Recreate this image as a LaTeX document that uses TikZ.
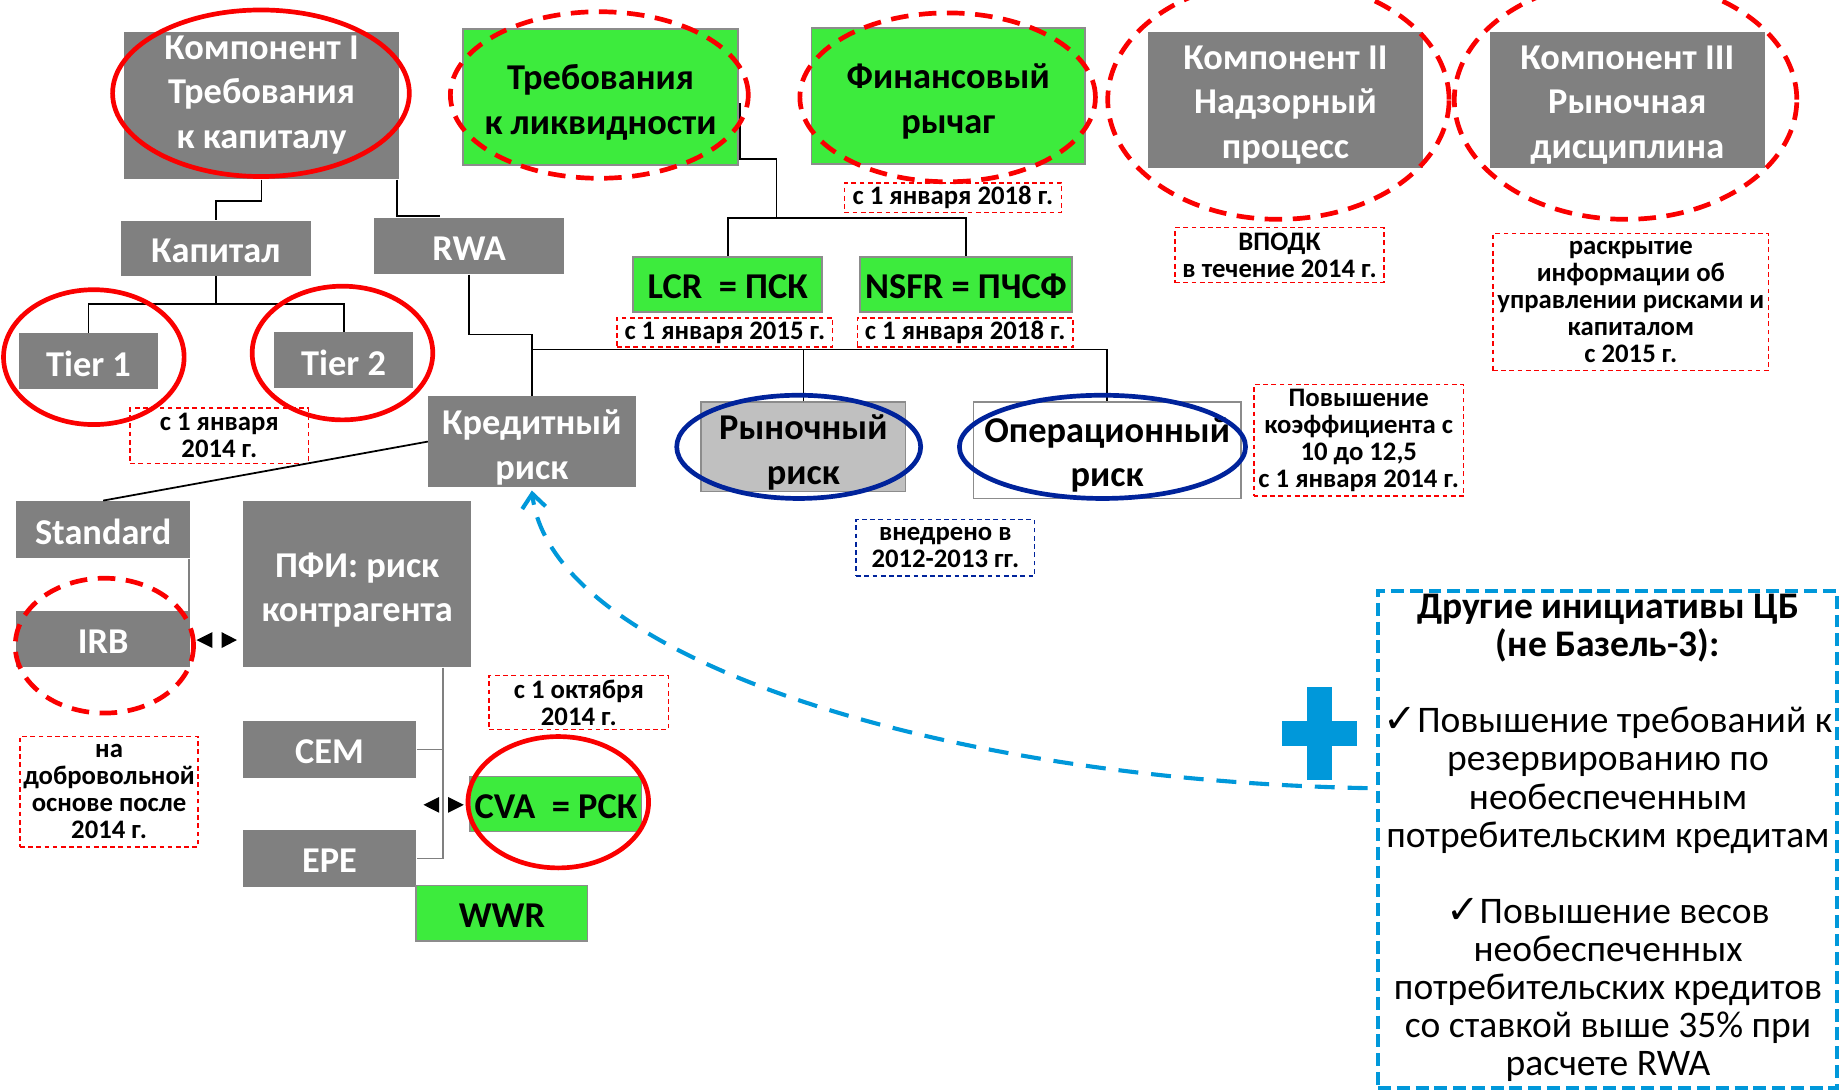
\documentclass[tikz,border=0pt]{standalone}
\usepackage{fontspec}
\setmainfont{Carlito}
\newfontfamily\djv{DejaVu Sans}
\usetikzlibrary{arrows.meta}
\definecolor{bgray}{RGB}{128,128,128}
\definecolor{bgreen}{RGB}{61,235,61}
\definecolor{lgray}{RGB}{192,192,192}
\definecolor{edgegray}{RGB}{140,140,140}
\definecolor{myred}{RGB}{250,0,0}
\definecolor{navy}{RGB}{0,35,155}
\definecolor{skyb}{RGB}{0,152,218}
\newcommand\bigfont{\fontsize{31}{38}\selectfont\bfseries}
\newcommand\notefont{\fontsize{22.8}{23}\selectfont\bfseries}
\newcommand\sidefont{\fontsize{32}{32.5}\selectfont}
\newcommand\chk{{\djv\fontsize{34}{32.5}\selectfont ✓}}
% box node + its text node: style, name, x, y, w, h, text shift, text
\newcommand\bxn[8]{%
  \node[#1, sz={#5}{#6}] (#2) at (#3,#4) {};
  \node[#1, draw=none, fill=none] (#2t) at (#3,{#4+#7}) {#8};}
\begin{document}
\begin{tikzpicture}[x=1pt,y=-1pt,
  gbox/.style={fill=bgray, text=white, font=\bigfont, inner sep=0pt, align=center},
  grbox/.style={fill=bgreen, draw=edgegray, line width=1.5pt, text=black, font=\bigfont, inner sep=0pt, align=center},
  lbox/.style={grbox, fill=lgray},
  wbox/.style={grbox, fill=white},
  note/.style={draw=myred, line width=1.3pt, dash pattern=on 4pt off 3pt, font=\notefont, text=black, inner sep=0pt, align=center},
  conn/.style={draw=black, line width=1.5pt},
  gconn/.style={draw=bgray, line width=1.5pt},
  ring/.style={draw=myred, line width=4pt},
  dring/.style={draw=myred, line width=4pt, dash pattern=on 15pt off 9pt},
  bring/.style={draw=navy, line width=4pt},
  sz/.style 2 args={minimum width=#1pt, minimum height=#2pt}
]
\fill[white] (0,0) rectangle (1568,930);
\useasboundingbox (0,0) rectangle (1568,930);

% top row
\bxn{gbox}{k1}{223}{90}{234}{126}{-9}{Компонент I\\Требования\\к капиталу}
\bxn{grbox}{liq}{512}{83}{234}{116}{4.5}{Требования\\к ликвидности}
\bxn{grbox}{lev}{808.5}{82}{233}{116}{4.5}{Финансовый\\рычаг}
\bxn{gbox}{k2}{1096}{85}{234}{116}{4.5}{Компонент II\\Надзорный\\процесс}
\bxn{gbox}{k3}{1387.5}{85}{235}{116}{4.5}{Компонент III\\Рыночная\\дисциплина}

% second level and below
\bxn{gbox}{kap}{184}{211.5}{162}{47}{2}{Капитал}
\bxn{gbox}{rwa}{400}{210}{162}{48}{2}{RWA}
\bxn{grbox}{lcr}{620.5}{242.5}{161}{47}{2}{LCR\ \ = ПСК}
\bxn{grbox}{nsfr}{823.5}{242.5}{181}{47}{2}{NSFR = ПЧСФ}
\bxn{gbox}{t1}{75.5}{308}{119}{48}{2}{Tier 1}
\bxn{gbox}{t2}{293}{307}{118}{48}{2}{Tier 2}
\bxn{gbox}{cred}{453.5}{376.5}{177}{77}{5}{Кредитный\\риск}
\bxn{lbox}{mkt}{685}{381}{174}{76}{5}{Рыночный\\риск}
\bxn{wbox}{opr}{944}{384}{228}{82}{4}{Операционный\\риск}
\bxn{gbox}{std}{88}{451.5}{148}{49}{2}{Standard}
\bxn{gbox}{irb}{88}{545}{148}{48}{2}{IRB}
\bxn{gbox}{pfi}{304.5}{498}{195}{142}{5}{ПФИ: риск\\контрагента}
\bxn{gbox}{cem}{281}{639}{148}{48}{2}{CEM}
\bxn{gbox}{epe}{281}{732}{148}{48}{2}{EPE}
\bxn{grbox}{cva}{474}{685.5}{146}{47}{2}{CVA\ \ = РСК}
\bxn{grbox}{wwr}{428}{778.5}{146}{47}{2}{WWR}

% notes
\node[note, sz={185}{25}] (d1) at (812.5,168.5) {с 1 января 2018 г.};
\node[note, sz={184}{25}] (d2) at (618,283.5) {с 1 января 2015 г.};
\node[note, sz={184}{25}] (d3) at (823,283.5) {с 1 января 2018 г.};
\node[note, sz={178}{47}] (d4) at (1091,217.5) {ВПОДК\\в течение 2014 г.};
\node[note, sz={235}{117}] (d5) at (1390.5,257.5) {раскрытие\\информации об\\управлении рисками и\\капиталом\\с 2015 г.};
\node[note, sz={152}{47}] (d6) at (187,371.5) {с 1 января\\2014 г.};
\node[note, sz={179}{95}] (d7) at (1158.5,375.5) {Повышение\\коэффициента с\\10 до 12,5\\с 1 января 2014 г.};
\node[note, draw=navy, sz={152}{48}] (d8) at (806,467) {внедрено в\\2012-2013 гг.};
\node[note, sz={153}{46}] (d9) at (493.5,599) {с 1 октября\\2014 г.};
\node[note, sz={152}{94}] (d10) at (93,675) {на\\добровольной\\основе после\\2014 г.};

% connectors
\draw[conn] (k1.south) -- ++(0,18) -| (kap.north);
\coordinate (rwaend) at (375,184);
\draw[conn] ([xshift=-2pt]k1.south east) |- (rwaend);
\draw[conn] (kap.south) -- ++(0,24) coordinate (kj);
\draw[conn] (t1.north) |- (kj) -| (t2.north);
\draw[conn] (rwa.south) -- ++(0,51) -| (cred.north);
\draw[conn] (cred.north |- 0,298) -| (opr.north);
\draw[conn] (mkt.north) -- (mkt.north |- 0,298);
\coordinate (lj) at (662,186);
\draw[conn] ([xshift=1.5pt,yshift=-5pt]liq.east) -- ([xshift=1.5pt,yshift=6pt]liq.south east) -| (lj);
\draw[conn] (lcr.north) |- (lj) -| (nsfr.north);
\draw[conn] (cred.west) -- (std.north);
\draw[gconn] ([xshift=-1pt]std.south east) -- ([xshift=-1pt]irb.north east);
\draw[gconn] (pfi.south -| 378,0) |- (epe.east);
\draw[gconn] (cem.east) -- (cem.east -| 378,0);

% small double triangles
\fill (181,539) -- (181,552.5) -- (167.5,545.7) -- cycle;
\fill (189,539) -- (189,552.5) -- (202,545.7) -- cycle;
\fill (374.5,679.5) -- (374.5,693) -- (361,686.2) -- cycle;
\fill (382,679.5) -- (382,693) -- (395.5,686.2) -- cycle;

% ellipses
\draw[ring] (222.5,79.5) ellipse [x radius=126.5pt, y radius=71pt];
\draw[dring] (511,81) ellipse [x radius=127pt, y radius=71pt];
\draw[dring] (808,83) ellipse [x radius=126pt, y radius=72pt];
\draw[dring] (1090,85) ellipse [x radius=145.5pt, y radius=102pt];
\draw[dring] (1386,85) ellipse [x radius=146pt, y radius=102pt];
\draw[ring] (80,304.5) ellipse [x radius=77pt, y radius=57.5pt];
\draw[ring] (292,301) ellipse [x radius=77pt, y radius=57pt];
\draw[dring] (89,550.5) ellipse [x radius=76pt, y radius=57.5pt];
\draw[ring] (476,684) ellipse [x radius=77pt, y radius=56pt];
\draw[bring] (681,381) ellipse [x radius=104pt, y radius=44pt];
\draw[bring] (940,381) ellipse [x radius=122pt, y radius=44pt];

% right side block
\node[draw=skyb, line width=3.5pt, dash pattern=on 11pt off 5pt, sz={391}{424}] (cb) at (1370.5,716) {};
\node[font=\sidefont, align=center, inner sep=0pt, text=black] (cbt) at (1371,714.5)
 {\textbf{Другие инициативы ЦБ}\\\textbf{(не Базель-3):}\\[32.5pt]
  \chk Повышение требований к\\резервированию по\\необеспеченным\\потребительским кредитам\\[32.5pt]
  \chk Повышение весов\\необеспеченных\\потребительских кредитов\\со ставкой выше 35\% при\\расчете RWA};
\fill[skyb] (1114,586) rectangle (1136,665);
\fill[skyb] (1093,615) rectangle (1157,636);
\coordinate (cs) at (1166,672);
\draw[skyb, line width=3.5pt, dash pattern=on 17pt off 11pt, -{Straight Barb[length=12pt,width=20pt]}]
  (cs) .. controls (800,665) and (470,560) .. ([yshift=-3pt]cred.south);
\end{tikzpicture}
\end{document}
